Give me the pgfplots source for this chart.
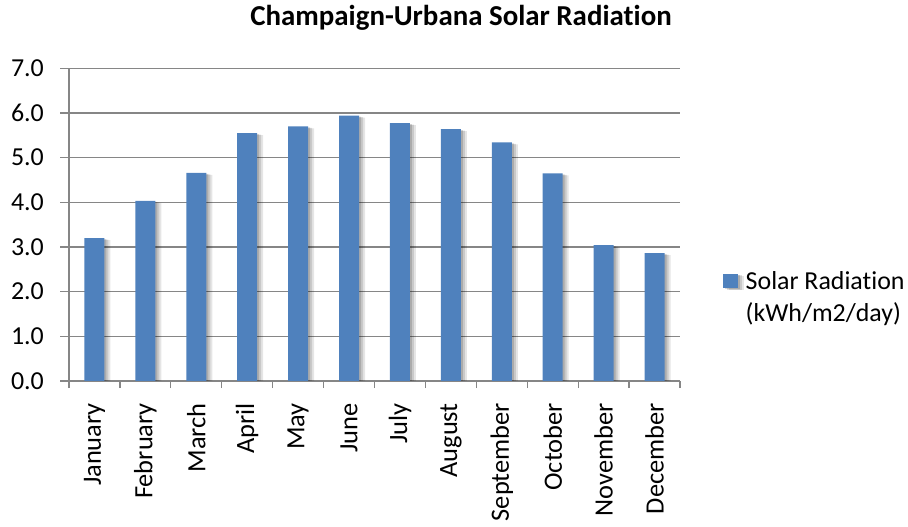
\documentclass[border=0pt]{standalone}
\usepackage{pgfplots}
\pgfplotsset{compat=1.18}
\usepackage{fontspec}
\setmainfont{Carlito}[Ligatures={NoCommon,NoRequired,NoContextual}]
\definecolor{barblue}{HTML}{4F81BD}
\definecolor{gridgray}{HTML}{868686}
\begin{document}
\begin{tikzpicture}
\path[use as bounding box] (0,0) rectangle (908bp,527bp);
\begin{axis}[
  at={(69bp,146bp)}, anchor=south west,
  scale only axis, width=611bp, height=312.7bp,
  xmin=-0.5, xmax=11.5, ymin=0, ymax=7,
  axis x line*=bottom, axis y line*=left,
  axis line style={gridgray, line width=1.2bp, -},
  ytick={0,1,...,7},
  ymajorgrids, grid style={gridgray, line width=1.2bp},
  tick align=outside,
  major tick length=9bp, minor tick length=7bp,
  y tick style={gridgray, line width=1.2bp},
  major x tick style={draw=none},
  minor x tick style={gridgray, line width=1.2bp},
  xtick={0,...,11},
  minor xtick={-0.5,0.5,...,11.5},
  xticklabels={January,February,March,April,May,June,July,August,September,October,November,December},
  /pgf/number format/assume math mode=true,
  yticklabel style={/pgf/number format/fixed, /pgf/number format/fixed zerofill, /pgf/number format/precision=1,
    font=\fontsize{26}{30}\selectfont, inner sep=0pt, anchor=east, xshift=-16bp},
  xticklabel style={font=\fontsize{26.5}{30}\selectfont, inner sep=0pt, yshift=-13bp, rotate=90, anchor=east},
  legend style={at={(1.0704,0.370)}, anchor=north west, draw=none, fill=none, inner sep=0pt,
    font=\fontsize{26}{32}\selectfont, column sep=6bp},
  legend cell align=left,
  legend image code/.code={\fill[barblue] (0bp,-9bp) rectangle (14.5bp,5.5bp);},
]
\addplot[ybar, bar width=20bp, fill=barblue, draw=none,
  preaction={fill=black, opacity=0.10, transform canvas={xshift=6bp, yshift=-2bp}},
  preaction={fill=black, opacity=0.12, transform canvas={xshift=4bp, yshift=-1.5bp}},
  preaction={fill=black, opacity=0.15, transform canvas={xshift=2bp, yshift=-1bp}}]
coordinates {(0,3.20) (1,4.03) (2,4.66) (3,5.55) (4,5.70) (5,5.94) (6,5.77) (7,5.64) (8,5.34) (9,4.65) (10,3.04) (11,2.86)};
\addlegendentry{\begin{tabular}[t]{@{}l@{}}Solar Radiation\\(kWh/m2/day)\end{tabular}}
\end{axis}
\node[anchor=base, font=\bfseries\fontsize{29}{34}\selectfont] at (461bp,501bp) {Champaign-Urbana Solar Radiation};
\end{tikzpicture}
\end{document}
